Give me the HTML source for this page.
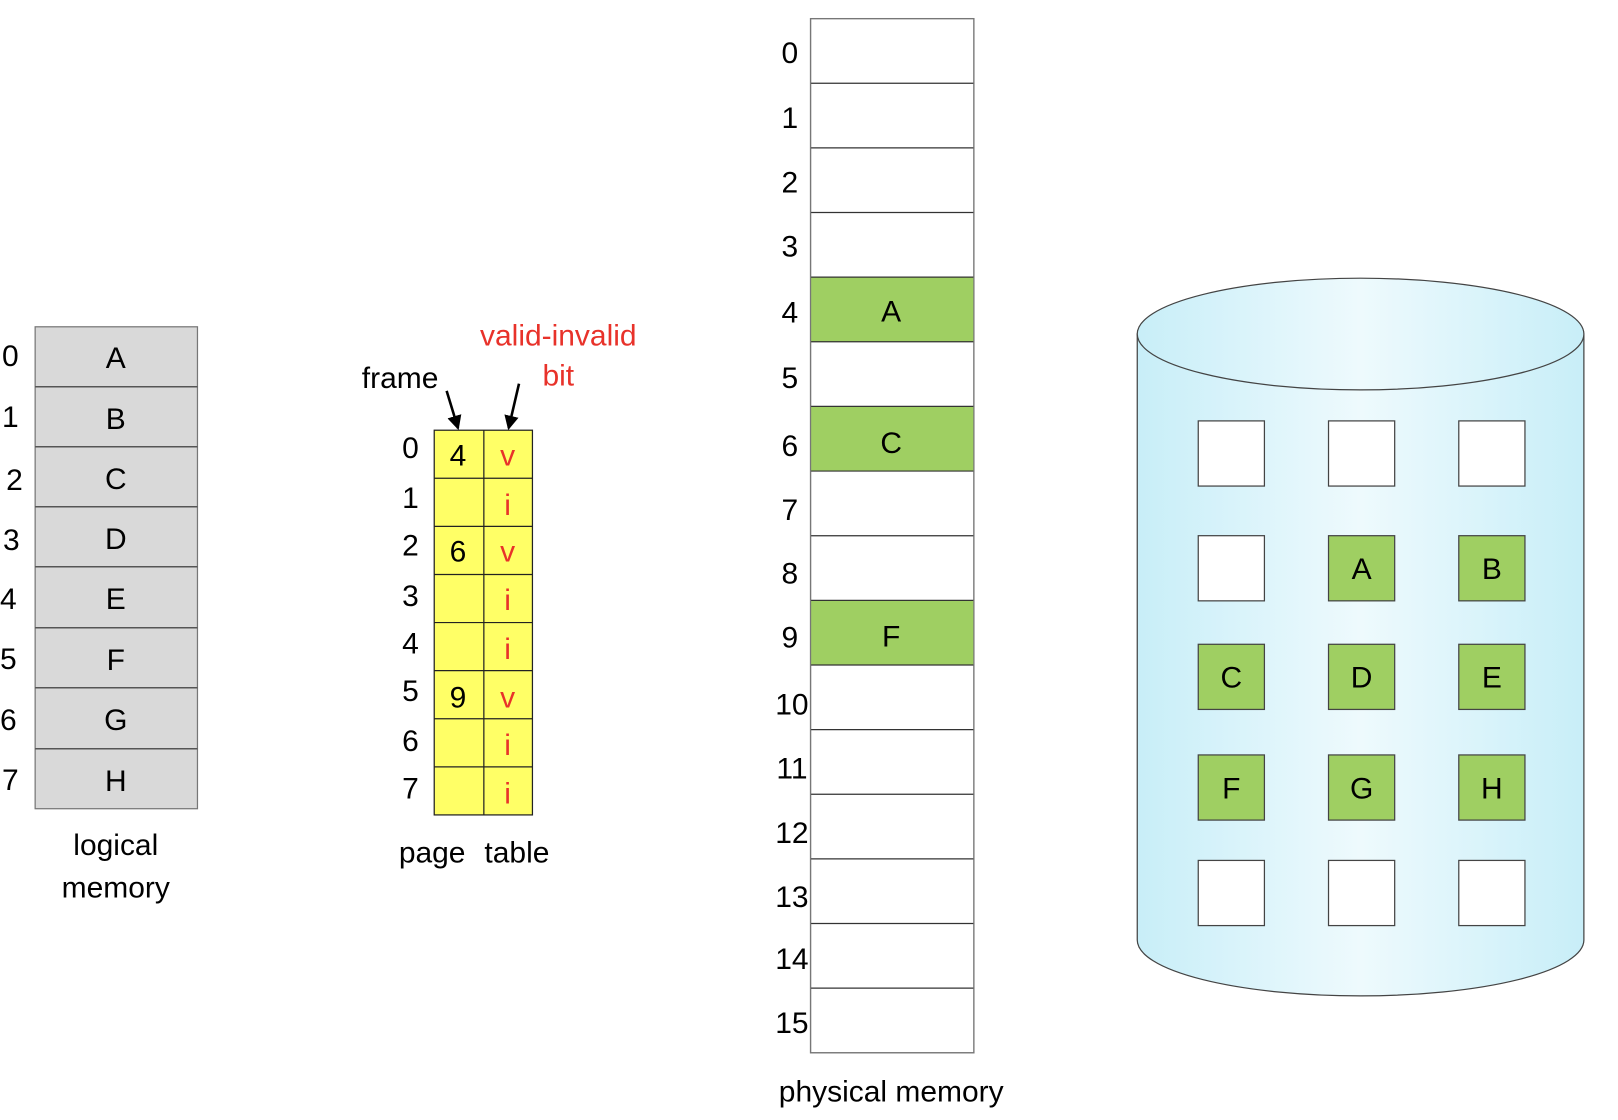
<!DOCTYPE html>
<html><head><meta charset="utf-8"><style>
html,body{margin:0;padding:0;background:#fff;}
svg{display:block;}
text{font-family:"Liberation Sans",sans-serif;}
</style></head><body>
<svg width="1618" height="1120" viewBox="0 0 1565 1083" preserveAspectRatio="none" xmlns="http://www.w3.org/2000/svg">
<defs>
<linearGradient id="cyl" x1="0" x2="1" y1="0" y2="0">
<stop offset="0" stop-color="#c8eef8"/><stop offset="0.5" stop-color="#eefafd"/><stop offset="1" stop-color="#c8eef8"/>
</linearGradient>
<marker id="ah" markerWidth="14" markerHeight="14" refX="12" refY="7" orient="auto" markerUnits="userSpaceOnUse">
<path d="M0,0 L14,7 L0,14 z" fill="#000"/></marker>
</defs>
<!-- logical memory -->
<g font-size="29" text-anchor="middle">
<rect x="34" y="316" width="157" height="466" fill="#d9d9d9" stroke="#777" stroke-width="1.2"/>
<g stroke="#555" stroke-width="1.5">
<line x1="34" y1="374" x2="191" y2="374"/><line x1="34" y1="432" x2="191" y2="432"/>
<line x1="34" y1="490" x2="191" y2="490"/><line x1="34" y1="548" x2="191" y2="548"/>
<line x1="34" y1="607" x2="191" y2="607"/><line x1="34" y1="665" x2="191" y2="665"/>
<line x1="34" y1="724" x2="191" y2="724"/></g>
<text x="112" y="356">A</text><text x="112" y="415">B</text><text x="112" y="473">C</text><text x="112" y="531">D</text>
<text x="112" y="589">E</text><text x="112" y="648">F</text><text x="112" y="706">G</text><text x="112" y="765">H</text>
<text x="10" y="354">0</text><text x="10" y="413">1</text><text x="14" y="474">2</text><text x="11" y="532">3</text>
<text x="8" y="589">4</text><text x="8" y="647">5</text><text x="8" y="706">6</text><text x="10" y="764">7</text>
<text x="112" y="827">logical</text><text x="112" y="868">memory</text>
</g>
<!-- page table -->
<g font-size="29" text-anchor="middle">
<rect x="420" y="416" width="95" height="372" fill="#ffff66" stroke="#222" stroke-width="1.2"/>
<g stroke="#222" stroke-width="1.2">
<line x1="468" y1="416" x2="468" y2="788"/>
<line x1="420" y1="462.5" x2="515" y2="462.5"/><line x1="420" y1="509" x2="515" y2="509"/>
<line x1="420" y1="555.5" x2="515" y2="555.5"/><line x1="420" y1="602" x2="515" y2="602"/>
<line x1="420" y1="648.5" x2="515" y2="648.5"/><line x1="420" y1="695" x2="515" y2="695"/>
<line x1="420" y1="741.5" x2="515" y2="741.5"/></g>
<text x="397" y="443">0</text><text x="397" y="491">1</text><text x="397" y="537">2</text><text x="397" y="586">3</text>
<text x="397" y="632">4</text><text x="397" y="678">5</text><text x="397" y="726">6</text><text x="397" y="772">7</text>
<text x="443" y="450">4</text><text x="443" y="543">6</text><text x="443" y="684">9</text>
<g fill="#e8322a"><text x="491" y="450">v</text><text x="491" y="498">i</text><text x="491" y="543">v</text><text x="491" y="590">i</text>
<text x="491" y="637">i</text><text x="491" y="684">v</text><text x="491" y="730">i</text><text x="491" y="777">i</text>
<text x="540" y="334">valid-invalid</text><text x="540" y="373">bit</text></g>
<text x="387" y="375">frame</text>
<text x="418" y="834">page</text><text x="500" y="834">table</text>
</g>
<line x1="432" y1="378" x2="443" y2="414" stroke="#000" stroke-width="2.5" marker-end="url(#ah)"/>
<line x1="502" y1="371" x2="492" y2="414" stroke="#000" stroke-width="2.5" marker-end="url(#ah)"/>
<!-- physical memory -->
<g font-size="29" text-anchor="middle">
<rect x="784" y="18" width="158" height="1000" fill="#fff" stroke="#777" stroke-width="1.2"/>
<rect x="784" y="268" width="158" height="62.5" fill="#9fcf62"/>
<rect x="784" y="393" width="158" height="62.5" fill="#9fcf62"/>
<rect x="784" y="580.5" width="158" height="62.5" fill="#9fcf62"/>
<g stroke="#333" stroke-width="1.2">
<line x1="784" y1="80.5" x2="942" y2="80.5"/><line x1="784" y1="143" x2="942" y2="143"/>
<line x1="784" y1="205.5" x2="942" y2="205.5"/><line x1="784" y1="268" x2="942" y2="268"/>
<line x1="784" y1="330.5" x2="942" y2="330.5"/><line x1="784" y1="393" x2="942" y2="393"/>
<line x1="784" y1="455.5" x2="942" y2="455.5"/><line x1="784" y1="518" x2="942" y2="518"/>
<line x1="784" y1="580.5" x2="942" y2="580.5"/><line x1="784" y1="643" x2="942" y2="643"/>
<line x1="784" y1="705.5" x2="942" y2="705.5"/><line x1="784" y1="768" x2="942" y2="768"/>
<line x1="784" y1="830.5" x2="942" y2="830.5"/><line x1="784" y1="893" x2="942" y2="893"/>
<line x1="784" y1="955.5" x2="942" y2="955.5"/></g>
<rect x="784" y="18" width="158" height="1000" fill="none" stroke="#777" stroke-width="1.2"/>
<text x="862" y="311">A</text><text x="862" y="438">C</text><text x="862" y="625">F</text>
<g text-anchor="middle">
<text x="764" y="61">0</text><text x="764" y="124">1</text><text x="764" y="186">2</text><text x="764" y="248">3</text>
<text x="764" y="312">4</text><text x="764" y="375">5</text><text x="764" y="441">6</text><text x="764" y="503">7</text>
<text x="764" y="564">8</text><text x="764" y="626">9</text><text x="766" y="691">10</text><text x="766" y="753">11</text>
<text x="766" y="815">12</text><text x="766" y="877">13</text><text x="766" y="937">14</text><text x="766" y="999">15</text></g>
<text x="862" y="1065">physical memory</text>
</g>
<!-- disk cylinder -->
<path d="M1100,323 L1100,909 A216,54 0 0 0 1532,909 L1532,323 Z" fill="url(#cyl)" stroke="#444" stroke-width="1.2"/>
<ellipse cx="1316" cy="323" rx="216" ry="54" fill="url(#cyl)" stroke="#444" stroke-width="1.2"/>
<g stroke="#444" stroke-width="1.2">
<rect x="1159" y="407" width="64" height="63" fill="#fff"/><rect x="1285" y="407" width="64" height="63" fill="#fff"/><rect x="1411" y="407" width="64" height="63" fill="#fff"/>
<rect x="1159" y="518" width="64" height="63" fill="#fff"/><rect x="1285" y="518" width="64" height="63" fill="#9fcf62"/><rect x="1411" y="518" width="64" height="63" fill="#9fcf62"/>
<rect x="1159" y="623" width="64" height="63" fill="#9fcf62"/><rect x="1285" y="623" width="64" height="63" fill="#9fcf62"/><rect x="1411" y="623" width="64" height="63" fill="#9fcf62"/>
<rect x="1159" y="730" width="64" height="63" fill="#9fcf62"/><rect x="1285" y="730" width="64" height="63" fill="#9fcf62"/><rect x="1411" y="730" width="64" height="63" fill="#9fcf62"/>
<rect x="1159" y="832" width="64" height="63" fill="#fff"/><rect x="1285" y="832" width="64" height="63" fill="#fff"/><rect x="1411" y="832" width="64" height="63" fill="#fff"/>
</g>
<g font-size="29" text-anchor="middle">
<text x="1317" y="560">A</text><text x="1443" y="560">B</text>
<text x="1191" y="665">C</text><text x="1317" y="665">D</text><text x="1443" y="665">E</text>
<text x="1191" y="772">F</text><text x="1317" y="772">G</text><text x="1443" y="772">H</text>
</g>
</svg>
</body></html>
